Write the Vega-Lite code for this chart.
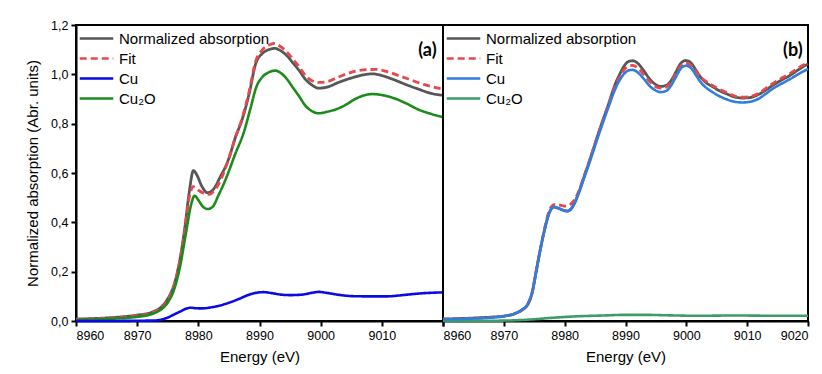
{
  "$schema": "https://vega.github.io/schema/vega-lite/v6.json",
  "background": "white",
  "padding": {"left": 24, "top": 18, "right": 0, "bottom": 0},
  "bounds": "flush",
  "spacing": 0,
  "config": {
    "font": "Liberation Sans",
    "view": {"stroke": "#000", "strokeWidth": 2},
    "axis": {
      "domainColor": "#000", "domainWidth": 2,
      "tickColor": "#000", "tickWidth": 2, "tickSize": 5,
      "labelFont": "Liberation Sans", "labelFontSize": 12.5, "labelColor": "#000", "labelPadding": 3,
      "titleFont": "Liberation Sans", "titleFontSize": 15, "titleFontWeight": "normal", "titleColor": "#000",
      "grid": false
    },
    "legend": {"symbolType": "M-3.2,0H3.2", "symbolSize": 110, "symbolStrokeWidth": 3, "labelFontSize": 15, "labelColor": "#000", "labelFont": "Liberation Sans", "labelOffset": 15, "rowPadding": 4, "padding": 0},
    "line": {"strokeWidth": 2.6, "interpolate": "monotone"}
  },
  "datasets": {
    "a": [
      {"s": "Normalized absorption", "e": 8960, "v": 0.008}, {"s": "Normalized absorption", "e": 8963, "v": 0.010}, {"s": "Normalized absorption", "e": 8966, "v": 0.014}, {"s": "Normalized absorption", "e": 8968, "v": 0.018}, {"s": "Normalized absorption", "e": 8970, "v": 0.024}, {"s": "Normalized absorption", "e": 8972, "v": 0.032}, {"s": "Normalized absorption", "e": 8973, "v": 0.042}, {"s": "Normalized absorption", "e": 8974, "v": 0.058}, {"s": "Normalized absorption", "e": 8975, "v": 0.09}, {"s": "Normalized absorption", "e": 8976, "v": 0.145}, {"s": "Normalized absorption", "e": 8977, "v": 0.25}, {"s": "Normalized absorption", "e": 8977.8, "v": 0.38}, {"s": "Normalized absorption", "e": 8978.5, "v": 0.52}, {"s": "Normalized absorption", "e": 8979.2, "v": 0.61}, {"s": "Normalized absorption", "e": 8979.8, "v": 0.59}, {"s": "Normalized absorption", "e": 8980.5, "v": 0.55}, {"s": "Normalized absorption", "e": 8981.5, "v": 0.52}, {"s": "Normalized absorption", "e": 8982.5, "v": 0.535}, {"s": "Normalized absorption", "e": 8983.5, "v": 0.58}, {"s": "Normalized absorption", "e": 8985, "v": 0.66}, {"s": "Normalized absorption", "e": 8986, "v": 0.74}, {"s": "Normalized absorption", "e": 8987.2, "v": 0.82}, {"s": "Normalized absorption", "e": 8988.3, "v": 0.92}, {"s": "Normalized absorption", "e": 8989.4, "v": 1.045}, {"s": "Normalized absorption", "e": 8990.5, "v": 1.085}, {"s": "Normalized absorption", "e": 8991.5, "v": 1.1}, {"s": "Normalized absorption", "e": 8992.5, "v": 1.105}, {"s": "Normalized absorption", "e": 8993.5, "v": 1.095}, {"s": "Normalized absorption", "e": 8994.5, "v": 1.075}, {"s": "Normalized absorption", "e": 8995.5, "v": 1.045}, {"s": "Normalized absorption", "e": 8996.5, "v": 1.015}, {"s": "Normalized absorption", "e": 8997.5, "v": 0.98}, {"s": "Normalized absorption", "e": 8998.5, "v": 0.958}, {"s": "Normalized absorption", "e": 8999.7, "v": 0.944}, {"s": "Normalized absorption", "e": 9001, "v": 0.948}, {"s": "Normalized absorption", "e": 9003, "v": 0.968}, {"s": "Normalized absorption", "e": 9005, "v": 0.985}, {"s": "Normalized absorption", "e": 9007, "v": 0.998}, {"s": "Normalized absorption", "e": 9008.5, "v": 1.002}, {"s": "Normalized absorption", "e": 9010, "v": 0.995}, {"s": "Normalized absorption", "e": 9012, "v": 0.978}, {"s": "Normalized absorption", "e": 9014, "v": 0.958}, {"s": "Normalized absorption", "e": 9016, "v": 0.94}, {"s": "Normalized absorption", "e": 9018, "v": 0.923}, {"s": "Normalized absorption", "e": 9020, "v": 0.915},
      {"s": "Fit", "e": 8960, "v": 0.006}, {"s": "Fit", "e": 8965, "v": 0.011}, {"s": "Fit", "e": 8970, "v": 0.022}, {"s": "Fit", "e": 8972, "v": 0.03}, {"s": "Fit", "e": 8973, "v": 0.04}, {"s": "Fit", "e": 8974, "v": 0.055}, {"s": "Fit", "e": 8975, "v": 0.085}, {"s": "Fit", "e": 8976, "v": 0.14}, {"s": "Fit", "e": 8977, "v": 0.245}, {"s": "Fit", "e": 8977.8, "v": 0.37}, {"s": "Fit", "e": 8978.5, "v": 0.5}, {"s": "Fit", "e": 8979.2, "v": 0.545}, {"s": "Fit", "e": 8980, "v": 0.53}, {"s": "Fit", "e": 8981.7, "v": 0.513}, {"s": "Fit", "e": 8982.8, "v": 0.535}, {"s": "Fit", "e": 8983.8, "v": 0.58}, {"s": "Fit", "e": 8985, "v": 0.66}, {"s": "Fit", "e": 8986, "v": 0.74}, {"s": "Fit", "e": 8987.2, "v": 0.825}, {"s": "Fit", "e": 8988.3, "v": 0.93}, {"s": "Fit", "e": 8989.4, "v": 1.055}, {"s": "Fit", "e": 8990.5, "v": 1.1}, {"s": "Fit", "e": 8991.5, "v": 1.118}, {"s": "Fit", "e": 8992.3, "v": 1.125}, {"s": "Fit", "e": 8993.3, "v": 1.115}, {"s": "Fit", "e": 8994.5, "v": 1.09}, {"s": "Fit", "e": 8995.5, "v": 1.06}, {"s": "Fit", "e": 8996.5, "v": 1.03}, {"s": "Fit", "e": 8997.5, "v": 0.995}, {"s": "Fit", "e": 8998.5, "v": 0.975}, {"s": "Fit", "e": 8999.7, "v": 0.967}, {"s": "Fit", "e": 9001, "v": 0.97}, {"s": "Fit", "e": 9003, "v": 0.99}, {"s": "Fit", "e": 9005, "v": 1.008}, {"s": "Fit", "e": 9007, "v": 1.018}, {"s": "Fit", "e": 9009, "v": 1.02}, {"s": "Fit", "e": 9011, "v": 1.01}, {"s": "Fit", "e": 9013, "v": 0.993}, {"s": "Fit", "e": 9015, "v": 0.975}, {"s": "Fit", "e": 9017, "v": 0.958}, {"s": "Fit", "e": 9020, "v": 0.94},
      {"s": "Cu", "e": 8960, "v": 0.0}, {"s": "Cu", "e": 8965, "v": 0.0}, {"s": "Cu", "e": 8970, "v": 0.001}, {"s": "Cu", "e": 8973, "v": 0.002}, {"s": "Cu", "e": 8974, "v": 0.006}, {"s": "Cu", "e": 8975, "v": 0.014}, {"s": "Cu", "e": 8976, "v": 0.026}, {"s": "Cu", "e": 8977, "v": 0.038}, {"s": "Cu", "e": 8978, "v": 0.05}, {"s": "Cu", "e": 8978.7, "v": 0.054}, {"s": "Cu", "e": 8979.5, "v": 0.052}, {"s": "Cu", "e": 8980.6, "v": 0.051}, {"s": "Cu", "e": 8982, "v": 0.055}, {"s": "Cu", "e": 8983.4, "v": 0.062}, {"s": "Cu", "e": 8985, "v": 0.074}, {"s": "Cu", "e": 8986.6, "v": 0.089}, {"s": "Cu", "e": 8988, "v": 0.104}, {"s": "Cu", "e": 8989.4, "v": 0.114}, {"s": "Cu", "e": 8990.7, "v": 0.117}, {"s": "Cu", "e": 8992, "v": 0.113}, {"s": "Cu", "e": 8993.5, "v": 0.107}, {"s": "Cu", "e": 8995, "v": 0.105}, {"s": "Cu", "e": 8997, "v": 0.107}, {"s": "Cu", "e": 8998.5, "v": 0.114}, {"s": "Cu", "e": 8999.7, "v": 0.118}, {"s": "Cu", "e": 9001, "v": 0.114}, {"s": "Cu", "e": 9003, "v": 0.106}, {"s": "Cu", "e": 9005, "v": 0.101}, {"s": "Cu", "e": 9007, "v": 0.1}, {"s": "Cu", "e": 9009, "v": 0.1}, {"s": "Cu", "e": 9011, "v": 0.1}, {"s": "Cu", "e": 9013, "v": 0.104}, {"s": "Cu", "e": 9015, "v": 0.109}, {"s": "Cu", "e": 9017, "v": 0.113}, {"s": "Cu", "e": 9020, "v": 0.116},
      {"s": "Cu₂O", "e": 8960, "v": 0.004}, {"s": "Cu₂O", "e": 8965, "v": 0.008}, {"s": "Cu₂O", "e": 8970, "v": 0.017}, {"s": "Cu₂O", "e": 8972, "v": 0.025}, {"s": "Cu₂O", "e": 8973, "v": 0.034}, {"s": "Cu₂O", "e": 8974, "v": 0.048}, {"s": "Cu₂O", "e": 8975, "v": 0.075}, {"s": "Cu₂O", "e": 8976, "v": 0.125}, {"s": "Cu₂O", "e": 8977, "v": 0.22}, {"s": "Cu₂O", "e": 8978, "v": 0.36}, {"s": "Cu₂O", "e": 8978.8, "v": 0.47}, {"s": "Cu₂O", "e": 8979.4, "v": 0.508}, {"s": "Cu₂O", "e": 8980, "v": 0.49}, {"s": "Cu₂O", "e": 8980.8, "v": 0.462}, {"s": "Cu₂O", "e": 8981.5, "v": 0.454}, {"s": "Cu₂O", "e": 8982.3, "v": 0.462}, {"s": "Cu₂O", "e": 8983.3, "v": 0.51}, {"s": "Cu₂O", "e": 8984.5, "v": 0.576}, {"s": "Cu₂O", "e": 8986, "v": 0.675}, {"s": "Cu₂O", "e": 8987.5, "v": 0.77}, {"s": "Cu₂O", "e": 8988.5, "v": 0.86}, {"s": "Cu₂O", "e": 8989.5, "v": 0.95}, {"s": "Cu₂O", "e": 8990.5, "v": 0.99}, {"s": "Cu₂O", "e": 8991.5, "v": 1.008}, {"s": "Cu₂O", "e": 8992.6, "v": 1.015}, {"s": "Cu₂O", "e": 8993.5, "v": 1.005}, {"s": "Cu₂O", "e": 8994.5, "v": 0.98}, {"s": "Cu₂O", "e": 8995.5, "v": 0.945}, {"s": "Cu₂O", "e": 8996.5, "v": 0.91}, {"s": "Cu₂O", "e": 8997.5, "v": 0.873}, {"s": "Cu₂O", "e": 8998.5, "v": 0.852}, {"s": "Cu₂O", "e": 8999.7, "v": 0.842}, {"s": "Cu₂O", "e": 9001, "v": 0.848}, {"s": "Cu₂O", "e": 9002.5, "v": 0.858}, {"s": "Cu₂O", "e": 9004, "v": 0.875}, {"s": "Cu₂O", "e": 9005.5, "v": 0.898}, {"s": "Cu₂O", "e": 9007, "v": 0.914}, {"s": "Cu₂O", "e": 9008.5, "v": 0.92}, {"s": "Cu₂O", "e": 9010, "v": 0.916}, {"s": "Cu₂O", "e": 9012, "v": 0.903}, {"s": "Cu₂O", "e": 9014, "v": 0.882}, {"s": "Cu₂O", "e": 9016, "v": 0.857}, {"s": "Cu₂O", "e": 9018, "v": 0.84}, {"s": "Cu₂O", "e": 9020, "v": 0.826}
    ],
    "b": [
      {"s": "Normalized absorption", "e": 8960, "v": 0.008}, {"s": "Normalized absorption", "e": 8965, "v": 0.012}, {"s": "Normalized absorption", "e": 8968, "v": 0.016}, {"s": "Normalized absorption", "e": 8970, "v": 0.02}, {"s": "Normalized absorption", "e": 8972, "v": 0.032}, {"s": "Normalized absorption", "e": 8973, "v": 0.045}, {"s": "Normalized absorption", "e": 8974, "v": 0.07}, {"s": "Normalized absorption", "e": 8974.7, "v": 0.12}, {"s": "Normalized absorption", "e": 8975.3, "v": 0.2}, {"s": "Normalized absorption", "e": 8976, "v": 0.29}, {"s": "Normalized absorption", "e": 8976.7, "v": 0.37}, {"s": "Normalized absorption", "e": 8977.5, "v": 0.44}, {"s": "Normalized absorption", "e": 8978.2, "v": 0.462}, {"s": "Normalized absorption", "e": 8979, "v": 0.457}, {"s": "Normalized absorption", "e": 8979.8, "v": 0.449}, {"s": "Normalized absorption", "e": 8980.5, "v": 0.446}, {"s": "Normalized absorption", "e": 8981.2, "v": 0.46}, {"s": "Normalized absorption", "e": 8982.3, "v": 0.52}, {"s": "Normalized absorption", "e": 8983.2, "v": 0.585}, {"s": "Normalized absorption", "e": 8984, "v": 0.643}, {"s": "Normalized absorption", "e": 8985.6, "v": 0.765}, {"s": "Normalized absorption", "e": 8987.3, "v": 0.886}, {"s": "Normalized absorption", "e": 8988.3, "v": 0.96}, {"s": "Normalized absorption", "e": 8989, "v": 0.998}, {"s": "Normalized absorption", "e": 8989.8, "v": 1.035}, {"s": "Normalized absorption", "e": 8990.5, "v": 1.052}, {"s": "Normalized absorption", "e": 8991.2, "v": 1.055}, {"s": "Normalized absorption", "e": 8992, "v": 1.045}, {"s": "Normalized absorption", "e": 8993, "v": 1.015}, {"s": "Normalized absorption", "e": 8994, "v": 0.98}, {"s": "Normalized absorption", "e": 8995, "v": 0.958}, {"s": "Normalized absorption", "e": 8995.8, "v": 0.951}, {"s": "Normalized absorption", "e": 8996.7, "v": 0.955}, {"s": "Normalized absorption", "e": 8997.5, "v": 0.975}, {"s": "Normalized absorption", "e": 8998.3, "v": 1.01}, {"s": "Normalized absorption", "e": 8999.1, "v": 1.045}, {"s": "Normalized absorption", "e": 8999.9, "v": 1.056}, {"s": "Normalized absorption", "e": 9000.7, "v": 1.048}, {"s": "Normalized absorption", "e": 9001.5, "v": 1.02}, {"s": "Normalized absorption", "e": 9002.3, "v": 0.99}, {"s": "Normalized absorption", "e": 9003.2, "v": 0.967}, {"s": "Normalized absorption", "e": 9004.3, "v": 0.95}, {"s": "Normalized absorption", "e": 9005.4, "v": 0.934}, {"s": "Normalized absorption", "e": 9006.7, "v": 0.92}, {"s": "Normalized absorption", "e": 9008.1, "v": 0.907}, {"s": "Normalized absorption", "e": 9009.3, "v": 0.904}, {"s": "Normalized absorption", "e": 9010.5, "v": 0.906}, {"s": "Normalized absorption", "e": 9012, "v": 0.92}, {"s": "Normalized absorption", "e": 9013, "v": 0.935}, {"s": "Normalized absorption", "e": 9014.1, "v": 0.954}, {"s": "Normalized absorption", "e": 9015.5, "v": 0.975}, {"s": "Normalized absorption", "e": 9017, "v": 0.995}, {"s": "Normalized absorption", "e": 9018.5, "v": 1.02}, {"s": "Normalized absorption", "e": 9020, "v": 1.042},
      {"s": "Fit", "e": 8960, "v": 0.007}, {"s": "Fit", "e": 8965, "v": 0.011}, {"s": "Fit", "e": 8968, "v": 0.015}, {"s": "Fit", "e": 8970, "v": 0.019}, {"s": "Fit", "e": 8972, "v": 0.031}, {"s": "Fit", "e": 8973, "v": 0.044}, {"s": "Fit", "e": 8974, "v": 0.07}, {"s": "Fit", "e": 8974.7, "v": 0.12}, {"s": "Fit", "e": 8975.3, "v": 0.2}, {"s": "Fit", "e": 8976, "v": 0.29}, {"s": "Fit", "e": 8976.7, "v": 0.375}, {"s": "Fit", "e": 8977.5, "v": 0.45}, {"s": "Fit", "e": 8978.3, "v": 0.472}, {"s": "Fit", "e": 8979.2, "v": 0.47}, {"s": "Fit", "e": 8980.2, "v": 0.466}, {"s": "Fit", "e": 8981.2, "v": 0.478}, {"s": "Fit", "e": 8982.3, "v": 0.525}, {"s": "Fit", "e": 8983.2, "v": 0.588}, {"s": "Fit", "e": 8984, "v": 0.645}, {"s": "Fit", "e": 8985.6, "v": 0.765}, {"s": "Fit", "e": 8987.3, "v": 0.884}, {"s": "Fit", "e": 8988.3, "v": 0.953}, {"s": "Fit", "e": 8989, "v": 0.988}, {"s": "Fit", "e": 8989.8, "v": 1.02}, {"s": "Fit", "e": 8990.5, "v": 1.034}, {"s": "Fit", "e": 8991.2, "v": 1.036}, {"s": "Fit", "e": 8992, "v": 1.026}, {"s": "Fit", "e": 8993, "v": 1.0}, {"s": "Fit", "e": 8994, "v": 0.97}, {"s": "Fit", "e": 8995, "v": 0.95}, {"s": "Fit", "e": 8995.8, "v": 0.944}, {"s": "Fit", "e": 8996.7, "v": 0.949}, {"s": "Fit", "e": 8997.5, "v": 0.968}, {"s": "Fit", "e": 8998.3, "v": 1.002}, {"s": "Fit", "e": 8999.1, "v": 1.034}, {"s": "Fit", "e": 8999.9, "v": 1.045}, {"s": "Fit", "e": 9000.7, "v": 1.038}, {"s": "Fit", "e": 9001.5, "v": 1.015}, {"s": "Fit", "e": 9002.3, "v": 0.99}, {"s": "Fit", "e": 9003.2, "v": 0.972}, {"s": "Fit", "e": 9004.3, "v": 0.955}, {"s": "Fit", "e": 9005.4, "v": 0.94}, {"s": "Fit", "e": 9006.7, "v": 0.925}, {"s": "Fit", "e": 9008.1, "v": 0.911}, {"s": "Fit", "e": 9009.3, "v": 0.907}, {"s": "Fit", "e": 9010.5, "v": 0.91}, {"s": "Fit", "e": 9012, "v": 0.925}, {"s": "Fit", "e": 9013, "v": 0.942}, {"s": "Fit", "e": 9014.1, "v": 0.961}, {"s": "Fit", "e": 9015.5, "v": 0.982}, {"s": "Fit", "e": 9017, "v": 1.003}, {"s": "Fit", "e": 9018.5, "v": 1.027}, {"s": "Fit", "e": 9020, "v": 1.048},
      {"s": "Cu", "e": 8960, "v": 0.006}, {"s": "Cu", "e": 8965, "v": 0.01}, {"s": "Cu", "e": 8968, "v": 0.014}, {"s": "Cu", "e": 8970, "v": 0.019}, {"s": "Cu", "e": 8972, "v": 0.032}, {"s": "Cu", "e": 8973, "v": 0.046}, {"s": "Cu", "e": 8974, "v": 0.072}, {"s": "Cu", "e": 8974.7, "v": 0.12}, {"s": "Cu", "e": 8975.3, "v": 0.197}, {"s": "Cu", "e": 8976, "v": 0.29}, {"s": "Cu", "e": 8976.7, "v": 0.37}, {"s": "Cu", "e": 8977.5, "v": 0.44}, {"s": "Cu", "e": 8978.2, "v": 0.462}, {"s": "Cu", "e": 8979, "v": 0.457}, {"s": "Cu", "e": 8979.8, "v": 0.448}, {"s": "Cu", "e": 8980.5, "v": 0.445}, {"s": "Cu", "e": 8981.2, "v": 0.458}, {"s": "Cu", "e": 8982.3, "v": 0.517}, {"s": "Cu", "e": 8983.2, "v": 0.58}, {"s": "Cu", "e": 8984, "v": 0.636}, {"s": "Cu", "e": 8985.6, "v": 0.755}, {"s": "Cu", "e": 8987.3, "v": 0.874}, {"s": "Cu", "e": 8988.3, "v": 0.94}, {"s": "Cu", "e": 8989, "v": 0.975}, {"s": "Cu", "e": 8989.8, "v": 1.003}, {"s": "Cu", "e": 8990.5, "v": 1.016}, {"s": "Cu", "e": 8991.2, "v": 1.018}, {"s": "Cu", "e": 8992, "v": 1.008}, {"s": "Cu", "e": 8993, "v": 0.982}, {"s": "Cu", "e": 8994, "v": 0.952}, {"s": "Cu", "e": 8995, "v": 0.934}, {"s": "Cu", "e": 8995.8, "v": 0.928}, {"s": "Cu", "e": 8996.7, "v": 0.933}, {"s": "Cu", "e": 8997.5, "v": 0.955}, {"s": "Cu", "e": 8998.3, "v": 0.99}, {"s": "Cu", "e": 8999.1, "v": 1.024}, {"s": "Cu", "e": 8999.9, "v": 1.035}, {"s": "Cu", "e": 9000.7, "v": 1.027}, {"s": "Cu", "e": 9001.5, "v": 1.0}, {"s": "Cu", "e": 9002.3, "v": 0.97}, {"s": "Cu", "e": 9003.2, "v": 0.947}, {"s": "Cu", "e": 9004.3, "v": 0.928}, {"s": "Cu", "e": 9005.4, "v": 0.912}, {"s": "Cu", "e": 9006.7, "v": 0.898}, {"s": "Cu", "e": 9008.1, "v": 0.888}, {"s": "Cu", "e": 9009.3, "v": 0.886}, {"s": "Cu", "e": 9010.5, "v": 0.889}, {"s": "Cu", "e": 9012, "v": 0.903}, {"s": "Cu", "e": 9013, "v": 0.92}, {"s": "Cu", "e": 9014.1, "v": 0.94}, {"s": "Cu", "e": 9015.5, "v": 0.96}, {"s": "Cu", "e": 9017, "v": 0.98}, {"s": "Cu", "e": 9018.5, "v": 1.002}, {"s": "Cu", "e": 9020, "v": 1.022},
      {"s": "Cu₂O", "e": 8960, "v": 0.0}, {"s": "Cu₂O", "e": 8968, "v": 0.001}, {"s": "Cu₂O", "e": 8972, "v": 0.003}, {"s": "Cu₂O", "e": 8975, "v": 0.007}, {"s": "Cu₂O", "e": 8978, "v": 0.013}, {"s": "Cu₂O", "e": 8982, "v": 0.019}, {"s": "Cu₂O", "e": 8986, "v": 0.022}, {"s": "Cu₂O", "e": 8990, "v": 0.025}, {"s": "Cu₂O", "e": 8993, "v": 0.025}, {"s": "Cu₂O", "e": 8997, "v": 0.023}, {"s": "Cu₂O", "e": 9002, "v": 0.021}, {"s": "Cu₂O", "e": 9006, "v": 0.022}, {"s": "Cu₂O", "e": 9010, "v": 0.022}, {"s": "Cu₂O", "e": 9015, "v": 0.021}, {"s": "Cu₂O", "e": 9020, "v": 0.021}
    ]
  },
  "hconcat": [
    {
      "width": 367,
      "height": 296,
      "title": {"text": "(a)", "anchor": "end", "orient": "top", "offset": -28, "baseline": "alphabetic", "dx": -12, "dy": 27, "font": "Lato", "fontSize": 18, "fontWeight": "bold", "color": "#000"},
      "data": {"name": "a"},
      "encoding": {
        "x": {
          "field": "e", "type": "quantitative",
          "scale": {"domain": [8960, 9020], "nice": false, "zero": false},
          "axis": {"title": "Energy (eV)", "values": [8960, 8970, 8980, 8990, 9000, 9010, 9020], "labelExpr": "datum.value == 9020 ? '' : format(datum.value, 'd')", "titlePadding": 8}
        },
        "y": {
          "field": "v", "type": "quantitative",
          "scale": {"domain": [0, 1.2], "nice": false, "zero": false},
          "axis": {"title": "Normalized absorption (Abr. units)", "values": [0, 0.2, 0.4, 0.6, 0.8, 1.0, 1.2], "labelExpr": "replace(format(datum.value, '.1f'), '.', ',')", "titlePadding": 10}
        },
        "color": {
          "field": "s", "type": "nominal", "title": null,
          "scale": {"domain": ["Normalized absorption", "Fit", "Cu", "Cu₂O"], "range": ["#575757", "#e8474b", "#0a0ae6", "#1b8c1b"]},
          "legend": {"orient": "none", "legendX": 13, "legendY": 6}
        },
        "strokeDash": {
          "field": "s", "type": "nominal", "title": null,
          "scale": {"domain": ["Normalized absorption", "Fit", "Cu", "Cu₂O"], "range": [[1, 0], [7, 4], [1, 0], [1, 0]]},
          "legend": {"orient": "none", "legendX": 13, "legendY": 6}
        }
      },
      "layer": [
        {"transform": [{"filter": "datum.s === 'Normalized absorption'"}], "mark": {"type": "line", "strokeWidth": 2.8}},
        {"transform": [{"filter": "datum.s === 'Fit'"}], "mark": {"type": "line", "strokeWidth": 2.8}},
        {"transform": [{"filter": "datum.s === 'Cu₂O'"}], "mark": {"type": "line"}},
        {"transform": [{"filter": "datum.s === 'Cu'"}], "mark": {"type": "line"}}
      ]
    },
    {
      "width": 365,
      "height": 296,
      "title": {"text": "(b)", "anchor": "end", "orient": "top", "offset": -24, "baseline": "alphabetic", "dx": -11, "dy": 25, "font": "Lato", "fontSize": 18, "fontWeight": "bold", "color": "#000"},
      "data": {"name": "b"},
      "encoding": {
        "x": {
          "field": "e", "type": "quantitative",
          "scale": {"domain": [8960, 9020], "nice": false, "zero": false},
          "axis": {"title": "Energy (eV)", "values": [8960, 8970, 8980, 8990, 9000, 9010, 9020], "format": "d", "titlePadding": 8}
        },
        "y": {
          "field": "v", "type": "quantitative",
          "scale": {"domain": [0, 1.2], "nice": false, "zero": false},
          "axis": null
        },
        "color": {
          "field": "s", "type": "nominal", "title": null,
          "scale": {"domain": ["Normalized absorption", "Fit", "Cu", "Cu₂O"], "range": ["#575757", "#e8474b", "#2f7ddc", "#3c9c6a"]},
          "legend": {"orient": "none", "legendX": 13, "legendY": 6}
        },
        "strokeDash": {
          "field": "s", "type": "nominal", "title": null,
          "scale": {"domain": ["Normalized absorption", "Fit", "Cu", "Cu₂O"], "range": [[1, 0], [7, 4], [1, 0], [1, 0]]},
          "legend": {"orient": "none", "legendX": 13, "legendY": 6}
        }
      },
      "layer": [
        {"transform": [{"filter": "datum.s === 'Normalized absorption'"}], "mark": {"type": "line", "strokeWidth": 2.8}},
        {"transform": [{"filter": "datum.s === 'Fit'"}], "mark": {"type": "line", "strokeWidth": 2.8}},
        {"transform": [{"filter": "datum.s === 'Cu₂O'"}], "mark": {"type": "line"}},
        {"transform": [{"filter": "datum.s === 'Cu'"}], "mark": {"type": "line"}}
      ]
    }
  ],
  "resolve": {
    "scale": {"color": "independent", "strokeDash": "independent"}
  }
}
